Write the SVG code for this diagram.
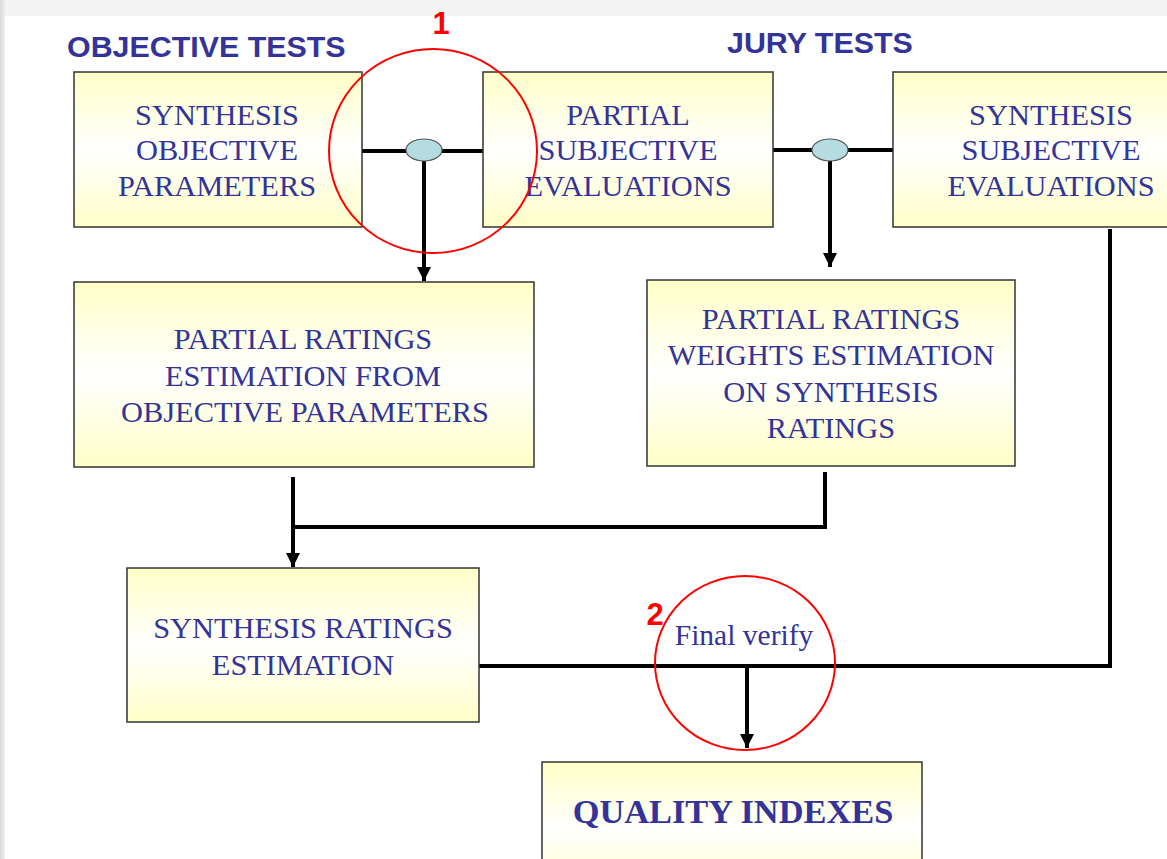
<svg xmlns="http://www.w3.org/2000/svg" width="1167" height="859" viewBox="0 0 1167 859">
  <defs>
    <linearGradient id="boxfill" x1="0" y1="0" x2="0" y2="1">
      <stop offset="0" stop-color="#ffffc8"/>
      <stop offset="0.5" stop-color="#ffffff"/>
      <stop offset="1" stop-color="#ffffc8"/>
    </linearGradient>
    <linearGradient id="leftedge" x1="0" y1="0" x2="1" y2="0">
      <stop offset="0" stop-color="#d8d8d8"/>
      <stop offset="1" stop-color="#efefef"/>
    </linearGradient>
    <marker id="arrow" viewBox="0 0 14 14" refX="14" refY="7" markerWidth="14" markerHeight="14" markerUnits="userSpaceOnUse" orient="auto">
      <path d="M0,0 L14,7 L0,14 Z" fill="#000"/>
    </marker>
  </defs>
  <style>
    .box { fill: url(#boxfill); stroke: #333333; stroke-width: 1.5; }
    .t { font-family: "Liberation Serif", "Times New Roman", serif; font-size: 30.4px; fill: #333399; text-anchor: middle; }
    .h { font-family: "Liberation Sans", Arial, sans-serif; font-size: 30.4px; font-weight: bold; fill: #333399; }
    .num { font-family: "Liberation Sans", Arial, sans-serif; font-size: 31px; font-weight: bold; fill: #ff0000; }
    .conn { fill: none; stroke: #000; stroke-width: 4; }
    .arr { fill: none; stroke: #000; stroke-width: 4; marker-end: url(#arrow); }
    .node-dot { fill: #b5dce0; stroke: #555555; stroke-width: 1.2; }
    .mark { fill: none; stroke: #ff0000; stroke-width: 2; }
  </style>

  <rect x="0" y="0" width="1167" height="859" fill="#ffffff"/>
  <rect x="0" y="0" width="1167" height="16" fill="#f4f4f4"/>
  <rect x="0" y="0" width="5" height="859" fill="url(#leftedge)"/>

  <text class="h" x="67" y="57">OBJECTIVE TESTS</text>
  <text class="h" x="727" y="53">JURY TESTS</text>

  <g id="connectors">
    <line class="conn" x1="362" y1="151" x2="483" y2="151"/>
    <line class="conn" x1="773" y1="150" x2="893" y2="150"/>
    <line class="arr" x1="424" y1="160" x2="424" y2="281"/>
    <line class="arr" x1="830" y1="160" x2="830" y2="267"/>
    <polyline class="conn" points="825,472 825,527 293,527"/>
    <line class="arr" x1="293" y1="477" x2="293" y2="567"/>
    <polyline class="conn" points="479,666 1110,666 1110,229"/>
    <line class="arr" x1="747" y1="668" x2="747" y2="748"/>
  </g>

  <g id="junction1"><ellipse class="node-dot" cx="424" cy="150" rx="18" ry="11"/></g>
  <g id="junction2"><ellipse class="node-dot" cx="830" cy="150" rx="18" ry="11"/></g>

  <g id="synthesis-objective-parameters">
    <rect class="box" x="74" y="72" width="288" height="155"/>
    <text class="t" x="217" y="125">SYNTHESIS</text>
    <text class="t" x="217" y="160">OBJECTIVE</text>
    <text class="t" x="217" y="196">PARAMETERS</text>
  </g>

  <g id="partial-subjective-evaluations">
    <rect class="box" x="483" y="72" width="290" height="155"/>
    <text class="t" x="628" y="125">PARTIAL</text>
    <text class="t" x="628" y="160">SUBJECTIVE</text>
    <text class="t" x="628" y="196">EVALUATIONS</text>
  </g>

  <g id="synthesis-subjective-evaluations">
    <rect class="box" x="893" y="72" width="320" height="155"/>
    <text class="t" x="1051" y="125">SYNTHESIS</text>
    <text class="t" x="1051" y="160">SUBJECTIVE</text>
    <text class="t" x="1051" y="196">EVALUATIONS</text>
  </g>

  <g id="partial-ratings-estimation">
    <rect class="box" x="74" y="282" width="460" height="185"/>
    <text class="t" x="303" y="349">PARTIAL RATINGS</text>
    <text class="t" x="303" y="386">ESTIMATION FROM</text>
    <text class="t" x="305" y="422">OBJECTIVE PARAMETERS</text>
  </g>

  <g id="partial-ratings-weights">
    <rect class="box" x="647" y="280" width="368" height="186"/>
    <text class="t" x="831" y="329">PARTIAL RATINGS</text>
    <text class="t" x="831" y="365">WEIGHTS ESTIMATION</text>
    <text class="t" x="831" y="402">ON SYNTHESIS</text>
    <text class="t" x="831" y="438">RATINGS</text>
  </g>

  <g id="synthesis-ratings-estimation">
    <rect class="box" x="127" y="568" width="352" height="154"/>
    <text class="t" x="303" y="638">SYNTHESIS RATINGS</text>
    <text class="t" x="303" y="675">ESTIMATION</text>
  </g>

  <g id="quality-indexes">
    <rect class="box" x="542" y="762" width="380" height="130"/>
    <text class="t" x="733" y="823" style="font-size:34.4px;font-weight:bold">QUALITY INDEXES</text>
  </g>

  <g id="annotations">
    <ellipse class="mark" cx="433" cy="151" rx="104" ry="102"/>
    <text class="num" x="441" y="34" text-anchor="middle">1</text>
    <ellipse class="mark" cx="745" cy="663" rx="90" ry="87"/>
    <text class="num" x="655" y="625" text-anchor="middle">2</text>
    <text class="t" x="744" y="645" style="font-size:29.5px">Final verify</text>
  </g>
</svg>
